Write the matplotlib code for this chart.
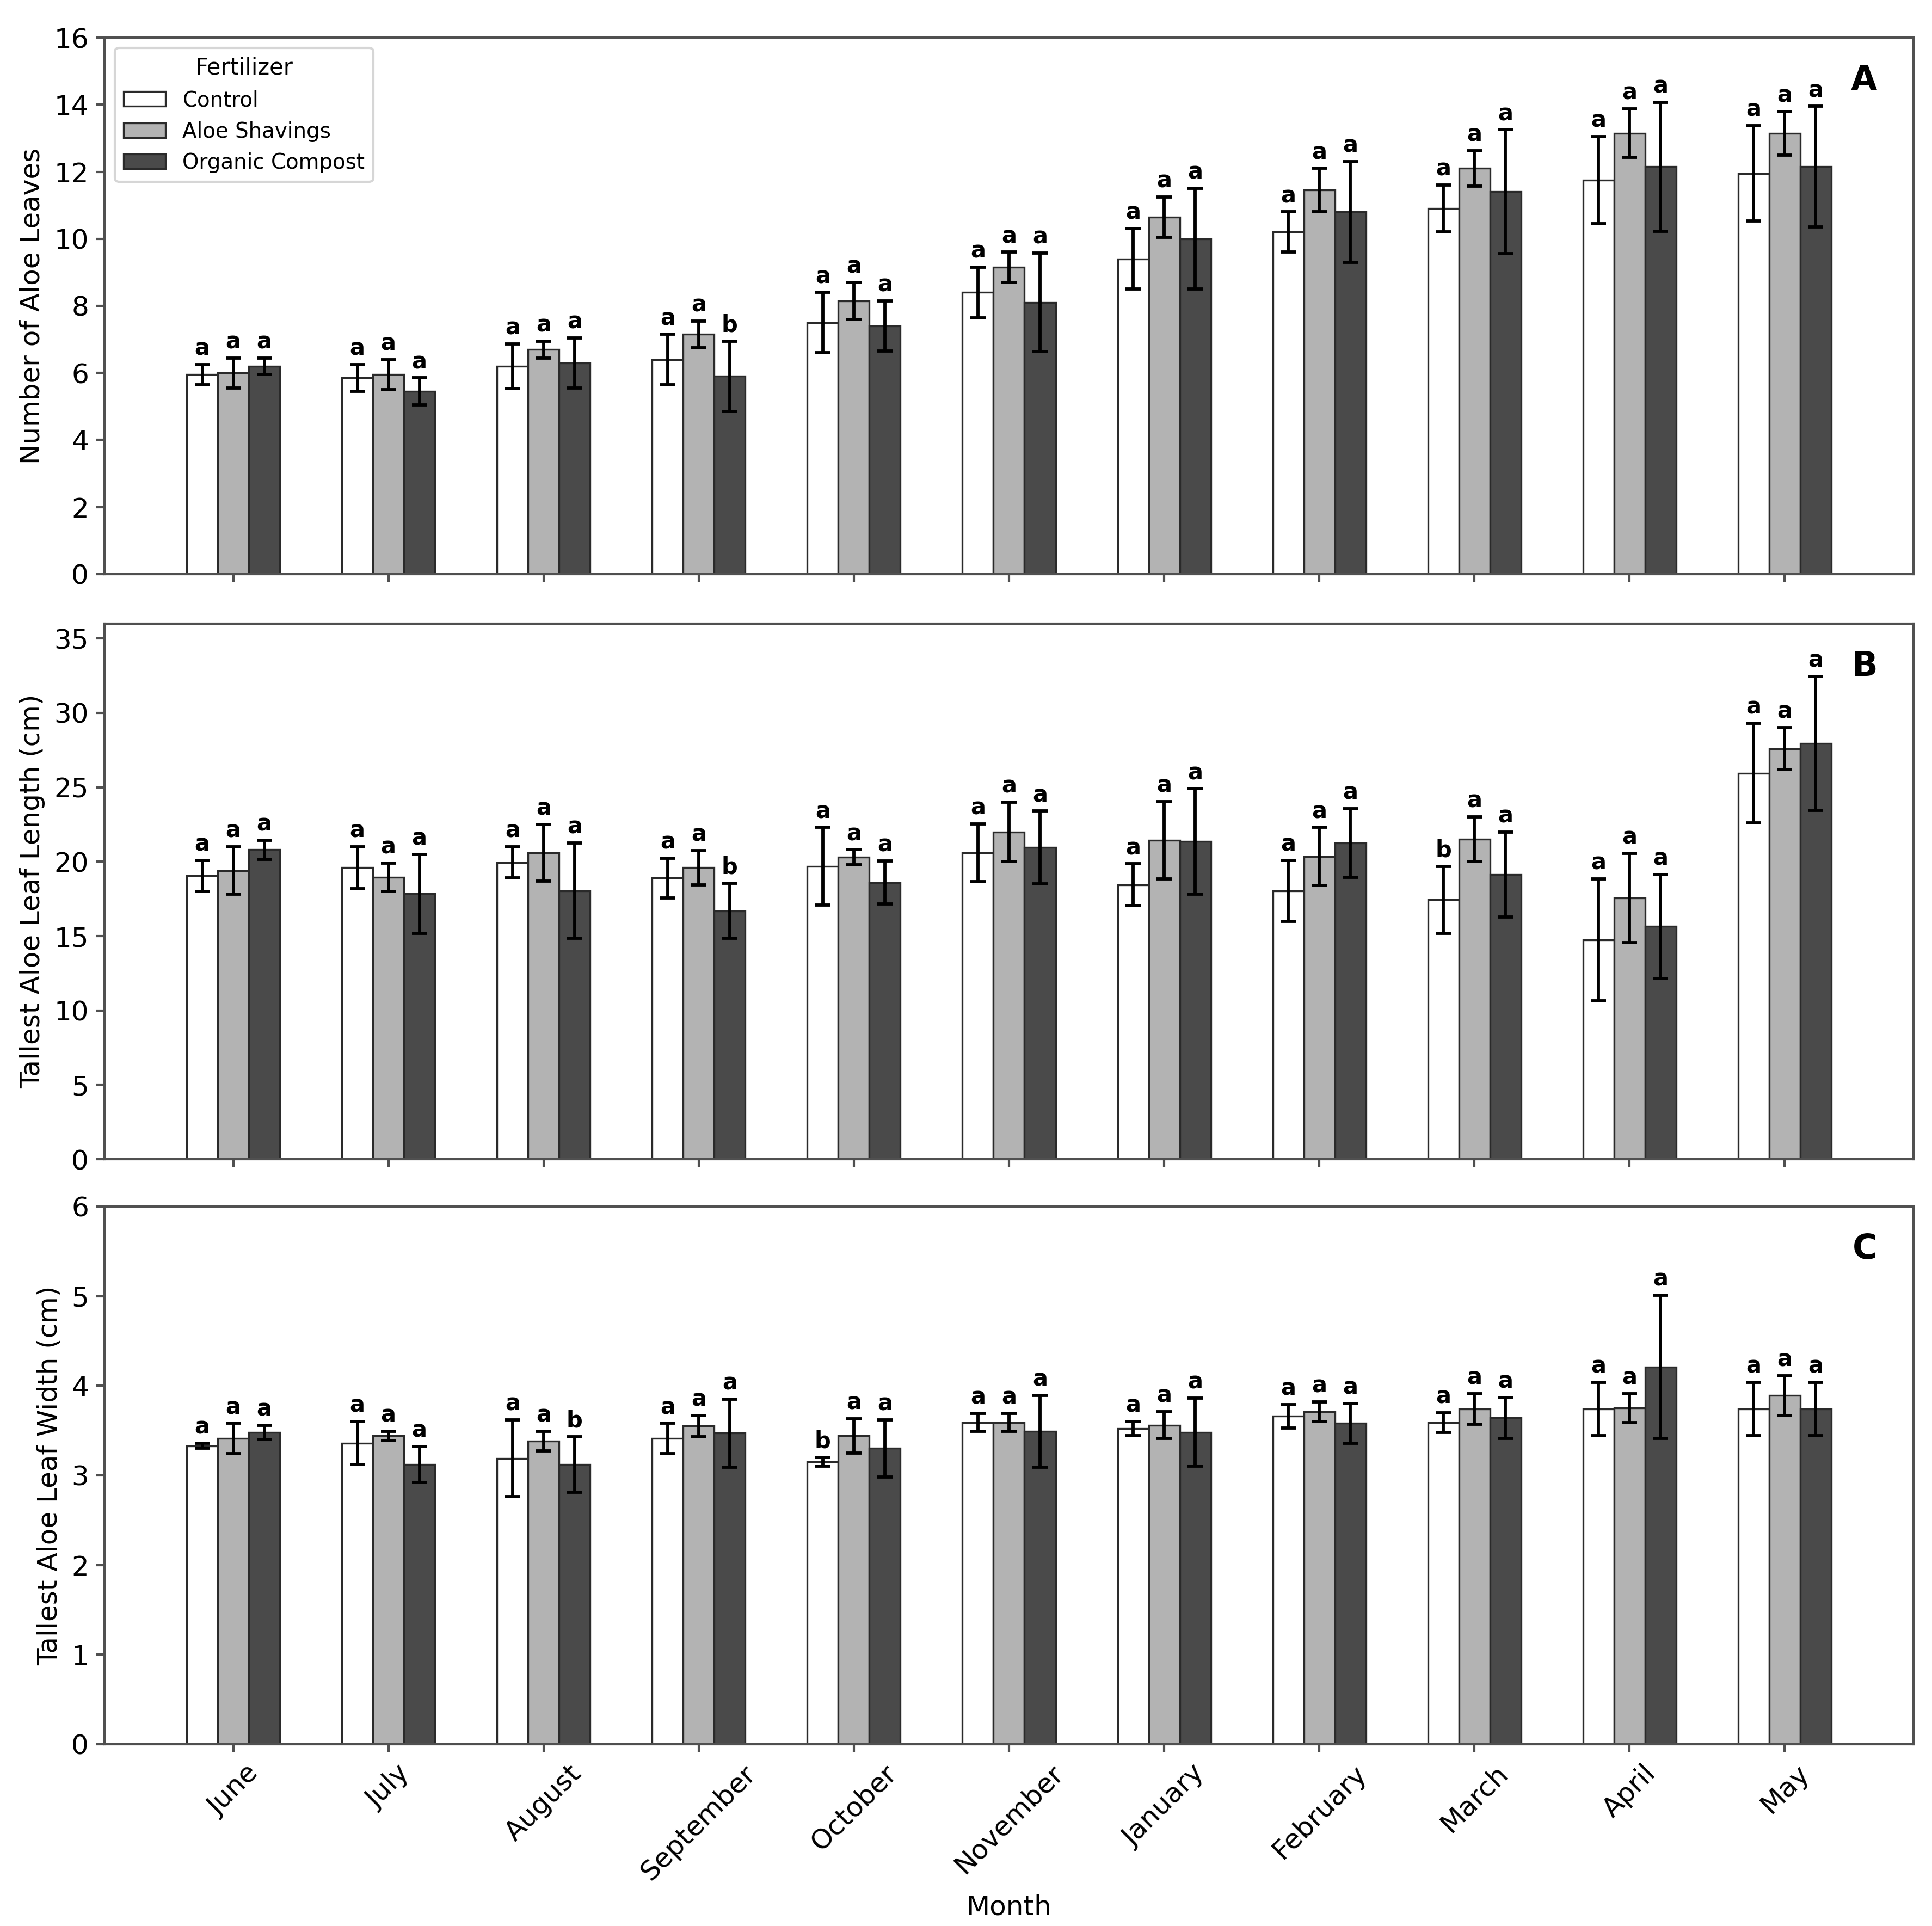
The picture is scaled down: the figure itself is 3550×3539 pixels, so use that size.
import matplotlib
matplotlib.use("Agg")
import matplotlib.pyplot as plt
import numpy as np

plt.rcParams['font.family'] = ['DejaVu Sans']

months = ["June", "July", "August", "September", "October", "November",
          "January", "February", "March", "April", "May"]
groups = ["Control", "Aloe Shavings", "Organic Compost"]

# Panel A: Number of Aloe Leaves
ctrl_A = [5.95, 5.85, 6.2, 6.4, 7.5, 8.4, 9.4, 10.2, 10.9, 11.75, 11.95]
ctrl_A_err = [0.3, 0.4, 0.67, 0.75, 0.9, 0.75, 0.9, 0.6, 0.7, 1.3, 1.42]
as_A = [6.0, 5.95, 6.7, 7.15, 8.15, 9.15, 10.65, 11.45, 12.1, 13.15, 13.15]
as_A_err = [0.45, 0.45, 0.25, 0.4, 0.55, 0.45, 0.6, 0.65, 0.53, 0.72, 0.65]
oc_A = [6.2, 5.45, 6.3, 5.9, 7.4, 8.1, 10.0, 10.8, 11.4, 12.15, 12.15]
oc_A_err = [0.25, 0.4, 0.75, 1.05, 0.75, 1.47, 1.5, 1.5, 1.85, 1.92, 1.8]
ctrl_A_let = ["a"] * 11
as_A_let = ["a"] * 11
oc_A_let = ["a", "a", "a", "b", "a", "a", "a", "a", "a", "a", "a"]

# Panel B: Tallest Aloe Leaf Length (cm)
ctrl_B = [19.05, 19.6, 19.95, 18.9, 19.7, 20.6, 18.45, 18.05, 17.45, 14.75, 25.95]
ctrl_B_err = [1.05, 1.4, 1.05, 1.35, 2.6, 1.95, 1.4, 2.05, 2.25, 4.1, 3.35]
as_B = [19.4, 18.95, 20.6, 19.6, 20.3, 22.0, 21.45, 20.35, 21.5, 17.55, 27.6]
as_B_err = [1.6, 0.95, 1.9, 1.15, 0.5, 2.0, 2.6, 1.95, 1.5, 3.0, 1.4]
oc_B = [20.8, 17.85, 18.05, 16.7, 18.6, 20.95, 21.35, 21.25, 19.15, 15.65, 27.95]
oc_B_err = [0.65, 2.65, 3.2, 1.85, 1.45, 2.45, 3.55, 2.3, 2.85, 3.5, 4.5]
ctrl_B_let = ["a", "a", "a", "a", "a", "a", "a", "a", "b", "a", "a"]
as_B_let = ["a"] * 11
oc_B_let = ["a", "a", "a", "b", "a", "a", "a", "a", "a", "a", "a"]

# Panel C: Tallest Aloe Leaf Width (cm)
ctrl_C = [3.33, 3.36, 3.19, 3.41, 3.15, 3.59, 3.52, 3.66, 3.59, 3.74, 3.74]
ctrl_C_err = [0.03, 0.24, 0.43, 0.17, 0.05, 0.1, 0.08, 0.13, 0.11, 0.3, 0.3]
as_C = [3.41, 3.44, 3.38, 3.55, 3.44, 3.59, 3.56, 3.71, 3.74, 3.75, 3.89]
as_C_err = [0.17, 0.05, 0.11, 0.12, 0.19, 0.1, 0.15, 0.11, 0.17, 0.16, 0.22]
oc_C = [3.48, 3.12, 3.12, 3.47, 3.30, 3.49, 3.48, 3.58, 3.64, 4.21, 3.74]
oc_C_err = [0.08, 0.2, 0.31, 0.38, 0.32, 0.4, 0.38, 0.22, 0.23, 0.8, 0.3]
ctrl_C_let = ["a", "a", "a", "a", "b", "a", "a", "a", "a", "a", "a"]
as_C_let = ["a"] * 11
oc_C_let = ["a", "a", "b", "a", "a", "a", "a", "a", "a", "a", "a"]

colors = ["#ffffff", "#b3b3b3", "#4a4a4a"]
spine_col = "#505050"

panels = [
    dict(vals=[ctrl_A, as_A, oc_A], errs=[ctrl_A_err, as_A_err, oc_A_err],
         lets=[ctrl_A_let, as_A_let, oc_A_let], ylabel="Number of Aloe Leaves",
         ylim=(0, 16), yticks=np.arange(0, 17, 2), tag="A",
         pos=[0.0541, 0.7019, 0.9363, 0.2786]),
    dict(vals=[ctrl_B, as_B, oc_B], errs=[ctrl_B_err, as_B_err, oc_B_err],
         lets=[ctrl_B_let, as_B_let, oc_B_let], ylabel="Tallest Aloe Leaf Length (cm)",
         ylim=(0, 36), yticks=np.arange(0, 36, 5), tag="B",
         pos=[0.0541, 0.3981, 0.9363, 0.2781]),
    dict(vals=[ctrl_C, as_C, oc_C], errs=[ctrl_C_err, as_C_err, oc_C_err],
         lets=[ctrl_C_let, as_C_let, oc_C_let], ylabel="Tallest Aloe Leaf Width (cm)",
         ylim=(0, 6), yticks=np.arange(0, 7, 1), tag="C",
         pos=[0.0541, 0.0944, 0.9363, 0.2792]),
]

fig = plt.figure(figsize=(3550 / 300, 3539 / 300), dpi=300)
x = np.arange(len(months))
width = 0.2
offsets = [-width, 0, width]

for i, p in enumerate(panels):
    ax = fig.add_axes(p["pos"])
    for g in range(3):
        xs = x + offsets[g]
        ax.bar(xs, p["vals"][g], width, color=colors[g], edgecolor="#2a2a2a",
               linewidth=0.8, label=groups[g],
               yerr=p["errs"][g], capsize=3.4,
               error_kw=dict(elinewidth=1.4, capthick=1.4, ecolor="black"))
        for xi, v, e, l in zip(xs, p["vals"][g], p["errs"][g], p["lets"][g]):
            ax.annotate(l, (xi, v + e), xytext=(0, 2), textcoords="offset points",
                        ha="center", va="bottom", fontsize=10, fontweight="bold")
    ax.set_xlim(-0.83, len(months) - 1 + 0.83)
    ax.set_ylim(*p["ylim"])
    ax.set_yticks(p["yticks"])
    ax.set_xticks(x)
    ax.set_ylabel(p["ylabel"], fontsize=12)
    ax.tick_params(axis="both", labelsize=12, color=spine_col, width=1.0)
    for s in ax.spines.values():
        s.set_color(spine_col)
        s.set_linewidth(1.0)
    ax.text(0.98, 0.95, p["tag"], transform=ax.transAxes, ha="right", va="top",
            fontsize=15, fontweight="bold")
    if i == 0:
        ax.legend(title="Fertilizer", loc="upper left", fontsize=9.3,
                  title_fontsize=10)
    if i < 2:
        ax.set_xticklabels([])
    else:
        ax.set_xticklabels(months, rotation=45)
        ax.set_xlabel("Month", fontsize=12)

fig.savefig("out.png", dpi=300)
